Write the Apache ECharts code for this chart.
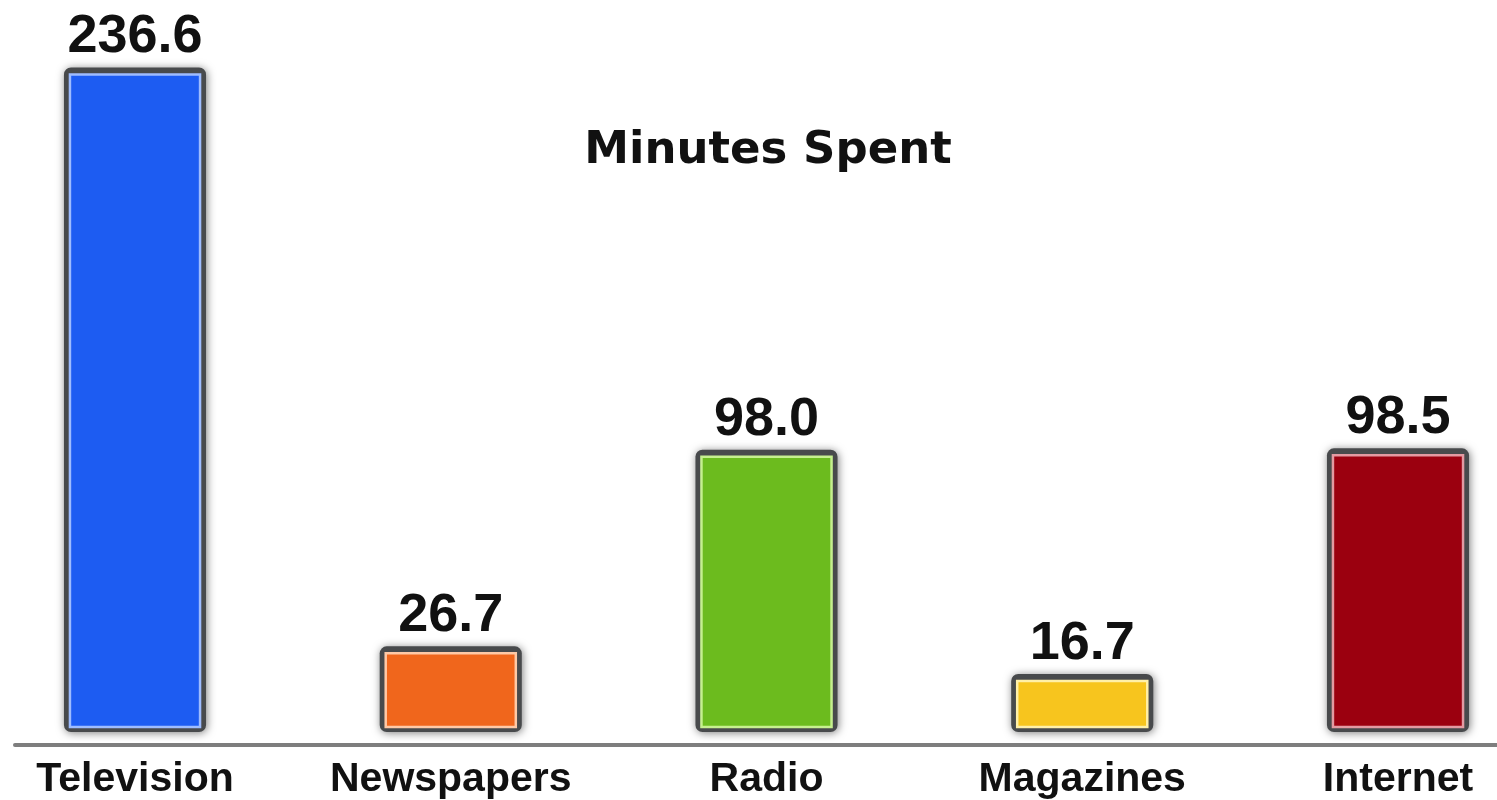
<!DOCTYPE html>
<html>
<head>
<meta charset="utf-8">
<script src="https://cdn.jsdelivr.net/npm/echarts@6/dist/echarts.min.js"></script>
<style>
html,body{margin:0;padding:0;background:#fff;}
#chart{width:1497px;height:800px;}
</style>
</head>
<body>
<div id="chart"></div>
<script>
const categories = ['Television', 'Newspapers', 'Radio', 'Magazines', 'Internet'];
const minutes = [236.6, 26.7, 98.0, 16.7, 98.5];
const fillColors = ['#1d5cf2', '#f0661c', '#6cbb1e', '#f7c51e', '#9b000f'];
const edgeColors = ['#9ebcff', '#ffc9a6', '#c6f08f', '#fff0a8', '#e39aa2'];
const chartTitle = 'Minutes Spent';

const chart = echarts.init(document.getElementById('chart'));

function renderBar(params, api) {
  const i = api.value(0);
  const v = api.value(1);
  const top = api.coord([i, v]);
  const base = api.coord([i, 0]);
  const band = api.size([1, 0])[0];
  const w = band * 0.412;
  const x = top[0] - w / 2;
  const h = base[1] - top[1];
  return {
    type: 'group',
    children: [
      {
        type: 'rect',
        shape: { x: x - 6, y: top[1] - 7, width: w + 12, height: h + 12, r: 7 },
        style: { fill: '#484a4c', shadowBlur: 9, shadowColor: 'rgba(0,0,0,0.5)', shadowOffsetX: 1, shadowOffsetY: 1 }
      },
      {
        type: 'rect',
        shape: { x: x, y: top[1], width: w, height: h },
        style: { fill: fillColors[i], stroke: edgeColors[i], lineWidth: 2.5 }
      },
      {
        type: 'text',
        style: {
          text: v.toFixed(1),
          x: top[0],
          y: top[1] - 37,
          align: 'center',
          verticalAlign: 'middle',
          fontFamily: 'Liberation Sans, Arial, sans-serif',
          fontWeight: 'bold',
          fontSize: 54,
          fill: '#111'
        }
      }
    ]
  };
}

chart.setOption({
  animation: false,
  backgroundColor: '#ffffff',
  title: {
    text: chartTitle,
    left: 763,
    top: 124,
    textAlign: 'center',
    textStyle: { fontFamily: 'DejaVu Sans, Verdana, sans-serif', fontWeight: 'bold', fontSize: 45, color: '#111' }
  },
  grid: [
    { left: 135, right: 99, top: 10, bottom: 72 },
    { left: 15, right: 0, top: 745, height: 0 }
  ],
  xAxis: [
    {
      type: 'category',
      gridIndex: 0,
      data: categories,
      boundaryGap: false,
      axisLine: { show: false },
      axisTick: { show: false },
      axisLabel: {
        margin: 32,
        fontFamily: 'Liberation Sans, Arial, sans-serif',
        fontWeight: 'bold',
        fontSize: 41,
        color: '#111'
      }
    },
    {
      type: 'category',
      gridIndex: 1,
      data: [''],
      axisLine: { show: true, lineStyle: { color: '#7e7e7e', width: 4 } },
      axisTick: { show: false },
      axisLabel: { show: false }
    }
  ],
  yAxis: [
    { type: 'value', gridIndex: 0, min: 0, max: 260, show: false },
    { type: 'value', gridIndex: 1, show: false }
  ],
  series: [
    {
      type: 'custom',
      xAxisIndex: 0,
      yAxisIndex: 0,
      renderItem: renderBar,
      data: minutes.map((m, i) => [i, m]),
      encode: { x: 0, y: 1 },
      clip: false
    }
  ]
});
</script>
</body>
</html>
